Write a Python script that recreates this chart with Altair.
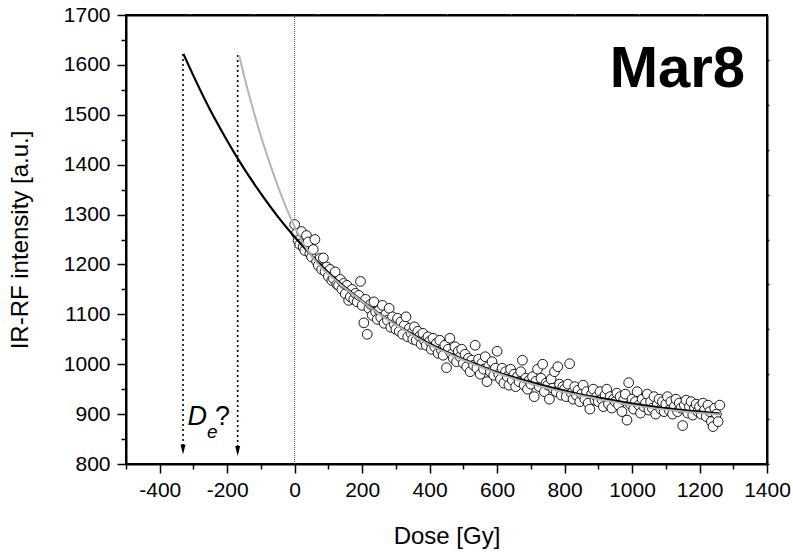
import altair as alt
import pandas as pd

# ---------------- data ----------------
DOSE = list(range(0, 1265, 5))
IRRF = (
    [1280, 1262, 1248, 1240, 1266, 1235, 1228, 1258, 1245, 1222, 1215, 1230, 1250, 1206, 1198, 1212, 1190, 1213, 1186, 1195]
    + [1176, 1190, 1168, 1172, 1185, 1160, 1158, 1170, 1150, 1162, 1141, 1158, 1128, 1135, 1150, 1130, 1142, 1125, 1138, 1166]
    + [1118, 1083, 1130, 1060, 1112, 1120, 1098, 1125, 1105, 1090, 1108, 1094, 1118, 1082, 1100, 1088, 1112, 1074, 1095, 1080]
    + [1070, 1092, 1066, 1085, 1060, 1078, 1095, 1055, 1072, 1062, 1050, 1075, 1048, 1066, 1056, 1040, 1062, 1047, 1038, 1055]
    + [1046, 1030, 1052, 1035, 1042, 1022, 1048, 1028, 1018, 1038, 993, 1030, 1052, 1020, 1012, 1035, 1005, 1026, 1015, 1030]
    + [1002, 1020, 995, 1012, 985, 1008, 998, 1038, 992, 1010, 980, 1002, 990, 1015, 965, 996, 985, 1005, 978, 992]
    + [1026, 980, 970, 992, 962, 985, 975, 958, 990, 968, 980, 955, 975, 965, 985, 1008, 958, 972, 950, 968]
    + [960, 975, 935, 966, 990, 955, 972, 1000, 945, 962, 958, 930, 970, 952, 985, 945, 995, 960, 938, 955]
    + [950, 935, 960, 1001, 942, 930, 955, 938, 948, 925, 940, 958, 930, 945, 922, 910, 940, 950, 928, 935]
    + [925, 945, 930, 915, 938, 950, 920, 935, 912, 930, 925, 942, 918, 935, 905, 928, 940, 888, 963, 920]
    + [930, 910, 925, 945, 918, 902, 930, 915, 922, 940, 908, 925, 912, 935, 900, 920, 930, 910, 925, 905]
    + [920, 935, 908, 925, 900, 915, 930, 905, 922, 912, 877, 918, 928, 902, 915, 925, 898, 912, 920, 905]
    + [915, 900, 922, 908, 895, 918, 905, 885, 875, 912, 900, 885, 918]
)

FIT_BLACK_X = [-330, -300, -250, -200, -165, -150, -100, -50, 0, 50, 100, 150, 200, 250, 300, 350, 400,
               450, 500, 550, 600, 650, 700, 750, 800, 850, 900, 950, 1000, 1050, 1100, 1150, 1200, 1260]
FIT_BLACK_Y = [1622, 1578, 1509, 1448, 1408, 1392, 1342, 1296, 1255, 1218, 1184, 1154, 1127, 1102, 1080, 1060, 1041,
               1025, 1010, 997, 984, 974, 964, 955, 947, 939, 933, 927, 921, 916, 912, 908, 905, 901]

FIT_GRAY_X = [-165, -150, -125, -100, -75, -50, -25, 0, 25, 50, 75, 100, 150, 200, 250, 300, 350, 400, 450, 500,
              550, 600, 650, 700, 750, 800, 850, 900, 950, 1000, 1050, 1100, 1150, 1200, 1260]
FIT_GRAY_Y = [1620, 1578, 1515, 1457, 1405, 1357, 1314, 1275, 1243, 1217, 1197, 1181, 1152, 1126, 1101, 1079, 1058,
              1039, 1023, 1008, 995, 982, 971, 961, 952, 944, 937, 930, 924, 918, 913, 909, 905, 902, 899]

ARROW_X = [-331, -169]
ARROW_TOP = [1622, 1620]
ARROW_BOT = [824, 821]
ARROW_HEAD = [829, 826]

X_MAJOR = [-400, -200, 0, 200, 400, 600, 800, 1000, 1200, 1400]
X_MINOR = [-500, -300, -100, 100, 300, 500, 700, 900, 1100, 1300]
Y_MAJOR = [800, 900, 1000, 1100, 1200, 1300, 1400, 1500, 1600, 1700]
Y_MINOR = [850, 950, 1050, 1150, 1250, 1350, 1450, 1550, 1650]
Y_RIGHT = [800, 890, 980, 1070, 1160, 1250, 1340, 1430, 1520, 1610]
X_TOP = [-310, -120, 70, 260, 450, 640, 830, 1020, 1210]

FONT = "Liberation Sans"

# ---------------- frames ----------------
pts = pd.DataFrame({"dose": DOSE, "val": IRRF})
black = pd.DataFrame({"dose": FIT_BLACK_X, "val": FIT_BLACK_Y})
gray = pd.DataFrame({"dose": FIT_GRAY_X, "val": FIT_GRAY_Y})
arrows = pd.DataFrame({"dose": ARROW_X, "top": ARROW_TOP, "bot": ARROW_BOT, "head": ARROW_HEAD})
zero = pd.DataFrame({"dose": [0], "top": [1700], "bot": [800]})

xs = alt.Scale(domain=[-500, 1400], nice=False, zero=False)
ys = alt.Scale(domain=[800, 1700], nice=False, zero=False)

ax_common = dict(grid=False, tickColor="black", domainColor="black", labelColor="black",
                 titleColor="black", labelFont=FONT, titleFont=FONT, titleFontWeight="normal")

x_major = alt.Axis(orient="bottom", values=X_MAJOR, labelExpr="'' + datum.value", title="Dose [Gy]",
                   labelFontSize=21, titleFontSize=24, tickSize=9, tickWidth=1.5, domainWidth=2,
                   labelPadding=6, titlePadding=24, labelFlush=False, labelOverlap=False, **ax_common)
y_major = alt.Axis(orient="left", values=Y_MAJOR, labelExpr="'' + datum.value", title="IR-RF intensity [a.u.]",
                   labelFontSize=21, titleFontSize=24, tickSize=9, tickWidth=1.5, domainWidth=2,
                   labelPadding=7, titlePadding=31, labelFlush=False, labelOverlap=False, **ax_common)
x_minor = alt.Axis(orient="bottom", values=X_MINOR, labels=False, title=None, tickSize=5, tickWidth=1.5,
                   domain=False, grid=False, tickColor="black")
y_minor = alt.Axis(orient="left", values=Y_MINOR, labels=False, title=None, tickSize=5, tickWidth=1.5,
                   domain=False, grid=False, tickColor="black")
x_top = alt.Axis(orient="top", values=X_TOP, labels=False, title=None, tickSize=2, tickWidth=1,
                 domain=True, domainWidth=2, domainColor="black", grid=False, tickColor="#d0d0d0")
y_right = alt.Axis(orient="right", values=Y_RIGHT, labels=False, title=None, tickSize=2, tickWidth=1.5,
                   domain=True, domainWidth=2, domainColor="black", grid=False, tickColor="#333333")

scatter = alt.Chart(pts).mark_point(shape="circle", filled=True, fill="white", stroke="black",
                                    strokeWidth=0.9, size=95, opacity=1).encode(
    x=alt.X("dose:Q", scale=xs, axis=x_major),
    y=alt.Y("val:Q", scale=ys, axis=y_major),
)

black_line = alt.Chart(black).mark_line(color="black", strokeWidth=2.2, interpolate="monotone").encode(
    x=alt.X("dose:Q", scale=xs, axis=x_minor),
    y=alt.Y("val:Q", scale=ys, axis=y_minor),
)

gray_line = alt.Chart(gray).mark_line(color="#b4b4b4", strokeWidth=2, interpolate="monotone").encode(
    x=alt.X("dose:Q", scale=xs, axis=x_top),
    y=alt.Y("val:Q", scale=ys, axis=y_right),
)

zero_line = alt.Chart(zero).mark_rule(color="#444444", strokeWidth=1, strokeDash=[1, 1]).encode(
    x=alt.X("dose:Q", scale=xs, axis=None),
    y=alt.Y("top:Q", scale=ys, axis=None),
    y2="bot:Q",
)

arrow_lines = alt.Chart(arrows).mark_rule(color="black", strokeWidth=1.6, strokeDash=[2, 3]).encode(
    x=alt.X("dose:Q", scale=xs, axis=None),
    y=alt.Y("top:Q", scale=ys, axis=None),
    y2="bot:Q",
)

arrow_heads = alt.Chart(arrows).mark_point(shape="M-0.5,-1L0.5,-1L0,1Z", filled=True, color="black",
                                           size=100, opacity=1).encode(
    x=alt.X("dose:Q", scale=xs, axis=None),
    y=alt.Y("head:Q", scale=ys, axis=None),
)

def label(txt, xv, yv, size, style="normal", weight="normal", align="left"):
    d = pd.DataFrame({"dose": [xv], "val": [yv], "t": [txt]})
    return alt.Chart(d).mark_text(font=FONT, fontSize=size, fontStyle=style, fontWeight=weight,
                                  align=align, baseline="alphabetic", color="black").encode(
        x=alt.X("dose:Q", scale=xs, axis=None),
        y=alt.Y("val:Q", scale=ys, axis=None),
        text="t:N",
    )

t_D = label("D", -318, 878, 27, style="italic")
t_e = label("e", -260, 853, 19, style="italic")
t_q = label("?", -236, 878, 27)
t_mar = label("Mar8", 1335, 1556, 58, weight="bold", align="right")

chart = alt.layer(
    zero_line, arrow_lines, arrow_heads, scatter, black_line, gray_line, t_D, t_e, t_q, t_mar
).resolve_axis(
    x="independent", y="independent"
).properties(
    width=641, height=449,
    padding={"left": 126, "top": 15, "right": 26, "bottom": 93},
    autosize=alt.AutoSizeParams(type="none"),
    background="white",
).configure_view(stroke="black", strokeWidth=2)

chart.save("out.html", embed_options={"renderer": "svg", "actions": False})
